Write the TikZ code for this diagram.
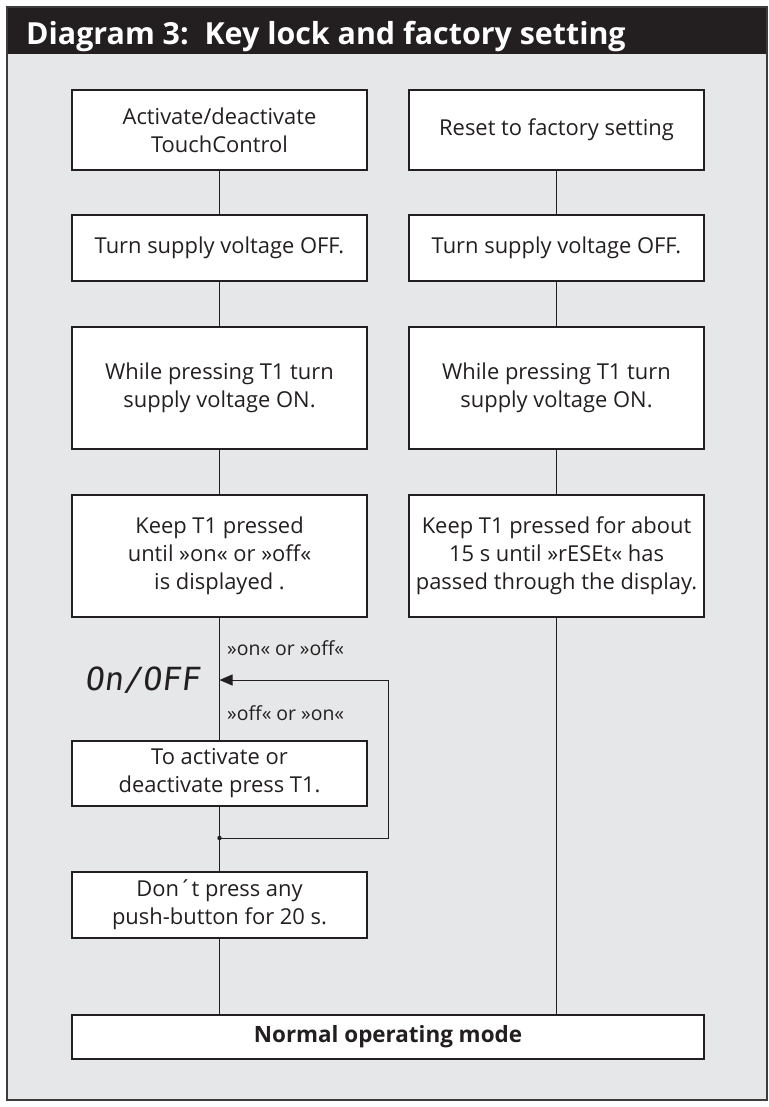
\documentclass[tikz,border=0pt]{standalone}
\usepackage{fontspec}
\setmainfont{Open Sans}
\newfontfamily\segfont{DejaVu Sans Mono}[FakeSlant=0.12]
\usetikzlibrary{arrows.meta}
\definecolor{ink}{HTML}{231F20}
\definecolor{panel}{HTML}{E6E7E8}
\definecolor{framec}{HTML}{3C3C3C}
\begin{document}
\begin{tikzpicture}[x=1bp,y=-1bp,
  every node/.style={text=ink},
  box/.style={draw=ink, line width=1.1bp, fill=white, minimum width=295bp, inner sep=0pt, align=center, font=\fontsize{22}{28}\selectfont},
  headbox/.style={box, line width=2bp},
  link/.style={draw=ink, line width=0.9bp},
  lbl/.style={font=\fontsize{19.5}{22}\selectfont, anchor=west, inner sep=0pt},
  display/.style={font=\segfont\fontsize{32}{34}\selectfont, anchor=east, inner sep=0pt}]
\useasboundingbox (0,0) rectangle (769,1107);
\fill[panel] (7,7) rectangle (767,1100);
\fill[ink] (7,7) rectangle (767,54);
\draw[framec, line width=2bp] (7,7) rectangle (767,1100);
\node[anchor=base west, text=white, font=\bfseries\fontsize{30.5}{32}\selectfont, inner sep=0pt] (title) at (26,44) {Diagram 3:\ \ Key lock and factory setting};
% left column
\node[headbox, minimum height=80bp] (a1) at (219.5,130) {Activate/deactivate\\TouchControl};
\node[box, minimum height=66bp] (a2) at (219.5,248) {Turn supply voltage OFF.};
\node[box, minimum height=122bp] (a3) at (219.5,388) {While pressing T1 turn\\supply voltage ON.};
\node[box, minimum height=122bp] (a4) at (219.5,556) {Keep T1 pressed\\until »on« or »off«\\is displayed .};
\node[box, minimum height=65bp] (a5) at (219.5,773.5) {To activate or\\deactivate press T1.};
\node[box, minimum height=66bp] (a6) at (219.5,905) {Don´t press any\\push-button for 20 s.};
% right column
\node[headbox, minimum height=80bp] (b1) at (556.5,130) {Reset to factory setting};
\node[box, minimum height=66bp] (b2) at (556.5,248) {Turn supply voltage OFF.};
\node[box, minimum height=122bp] (b3) at (556.5,388) {While pressing T1 turn\\supply voltage ON.};
\node[box, minimum height=122bp] (b4) at (556.5,556) {Keep T1 pressed for about\\15 s until »rESEt« has\\passed through the display.};
% bottom
\node[headbox, minimum width=632bp, minimum height=44bp, font=\bfseries\fontsize{22.5}{28}\selectfont] (nm) at (388,1037) {Normal operating mode};
% display and labels
\coordinate (arr) at (219.5,680);
\coordinate (dot) at (219.5,838);
\coordinate (corner) at (388,838);
\node[display] (disp) at (200,680) {On/OFF};
\node[lbl] (l1) at (227,648) {»on« or »off«};
\node[lbl] (l2) at (227,713) {»off« or »on«};
% connectors
\draw[link] (a1) -- (a2);
\draw[link] (a2) -- (a3);
\draw[link] (a3) -- (a4);
\draw[link] (a4) -- (a5);
\draw[link] (a5) -- (a6);
\draw[link] (a6.south) -- (a6.south |- nm.north);
\draw[link] (b1) -- (b2);
\draw[link] (b2) -- (b3);
\draw[link] (b3) -- (b4);
\draw[link] (b4.south) -- (b4.south |- nm.north);
\draw[link, -{Triangle[length=13bp,width=11bp]}] (dot) -- (corner) |- (arr);
\fill[ink] (dot) circle (2.2bp);
\end{tikzpicture}
\end{document}
